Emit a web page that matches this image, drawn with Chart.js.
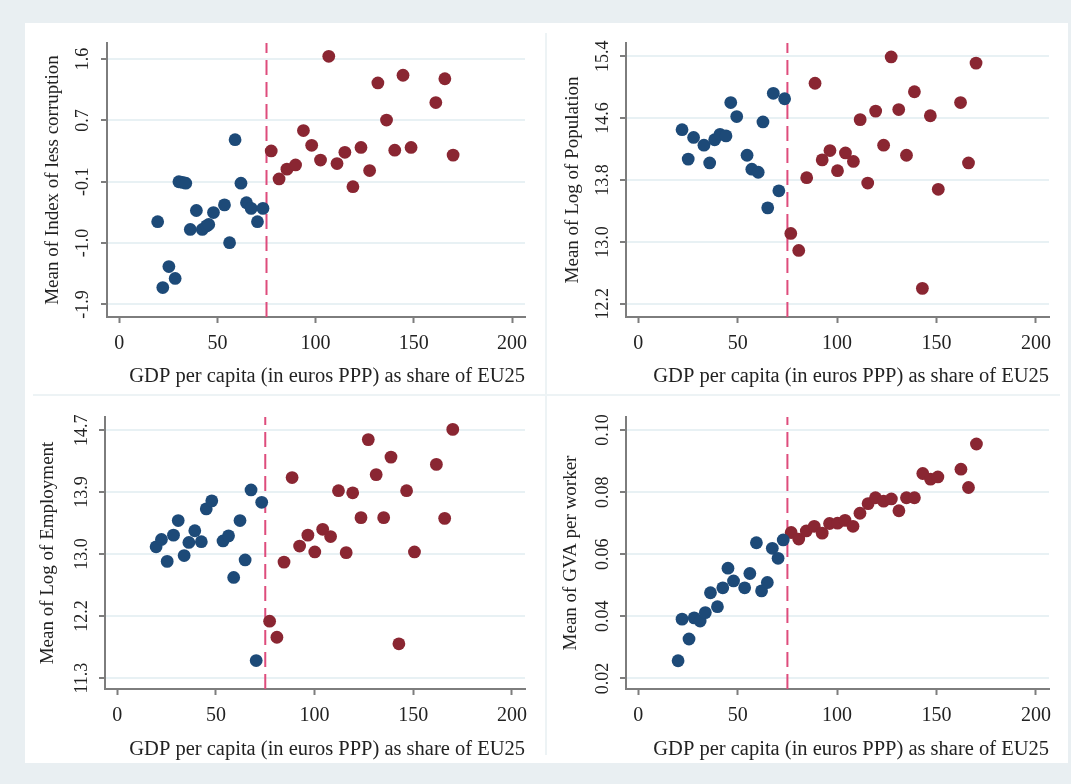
<!DOCTYPE html>
<html>
<head>
<meta charset="utf-8">
<script src="https://cdn.jsdelivr.net/npm/chart.js@4.4.0/dist/chart.umd.min.js"></script>
<style>
	body { margin: 0; background: #e9eff2; }
	#frame { position: absolute; left: 25px; top: 23px; width: 1043px; height: 740px; background: #ffffff; }
	#frame canvas { position: absolute; }
	.sep { position: absolute; background: #edf3f5; }
</style>
</head>
<body>
<div id="frame">
	<canvas id="chart-corruption" width="521" height="372" style="left:0;top:0"></canvas>
	<canvas id="chart-population" width="522" height="372" style="left:521px;top:0"></canvas>
	<canvas id="chart-employment" width="521" height="368" style="left:0;top:372px"></canvas>
	<canvas id="chart-gva" width="522" height="368" style="left:521px;top:372px"></canvas>
	<div class="sep" style="left:520px;top:10px;width:2px;height:722px"></div>
	<div class="sep" style="left:8px;top:371px;width:1027px;height:2px"></div>
</div>
<script>
// regions below / above the 75% threshold, [GDP share, value]
var cutoff = 75;
var xTicks = [0, 50, 100, 150, 200];
var xTitle = "GDP per capita (in euros PPP) as share of EU25";

var corruptionBelow = [[19.6,-0.72],[22.2,-1.66],[25.3,-1.36],[28.5,-1.53],[30.4,-0.15],[32.3,-0.16],[33.9,-0.17],[36.2,-0.83],[39.3,-0.56],[42.3,-0.83],[44.5,-0.78],[45.6,-0.76],[48.0,-0.59],[53.6,-0.48],[56.2,-1.02],[59.0,0.45],[62.0,-0.17],[64.8,-0.45],[67.2,-0.53],[70.4,-0.72],[73.2,-0.53]];
var corruptionAbove = [[77.4,0.29],[81.4,-0.11],[85.4,0.03],[89.8,0.09],[93.8,0.58],[98.0,0.37],[102.5,0.16],[106.7,1.64],[110.9,0.11],[114.9,0.27],[119.0,-0.22],[123.1,0.34],[127.5,0.01],[131.7,1.26],[136.1,0.73],[140.3,0.30],[144.5,1.37],[148.6,0.34],[161.2,0.98],[165.8,1.32],[170.0,0.23]];
var corruptionTicks = [-1.9, -1.025, -0.15, 0.725, 1.6];
var corruptionLabels = ["-1.9", "-1.0", "-0.1", "0.7", "1.6"];

var populationBelow = [[22.0,14.45],[25.1,14.07],[27.8,14.35],[33.0,14.25],[35.9,14.02],[38.4,14.32],[41.1,14.39],[44.1,14.37],[46.5,14.80],[49.5,14.62],[54.7,14.12],[57.1,13.94],[60.3,13.90],[62.7,14.55],[65.1,13.44],[67.9,14.92],[70.7,13.66],[73.6,14.85]];
var populationAbove = [[76.7,13.11],[80.7,12.89],[84.7,13.83],[88.9,15.05],[92.5,14.06],[96.4,14.18],[100.2,13.92],[104.2,14.15],[108.2,14.04],[111.6,14.58],[115.4,13.76],[119.4,14.69],[123.4,14.25],[127.2,15.39],[131.0,14.71],[134.9,14.12],[138.9,14.94],[142.9,12.40],[146.9,14.63],[150.9,13.68],[162.1,14.80],[166.1,14.02],[169.9,15.31]];
var populationTicks = [12.2, 13.0, 13.8, 14.6, 15.4];
var populationLabels = ["12.2", "13.0", "13.8", "14.6", "15.4"];

var employmentBelow = [[19.7,13.10],[22.4,13.20],[25.3,12.90],[28.5,13.26],[30.9,13.46],[33.9,12.98],[36.3,13.16],[39.3,13.32],[42.6,13.17],[45.1,13.62],[47.9,13.73],[53.6,13.18],[56.4,13.25],[59.0,12.68],[62.2,13.46],[64.8,12.92],[67.8,13.88],[70.4,11.54],[73.2,13.71]];
var employmentAbove = [[77.2,12.08],[80.9,11.86],[84.5,12.89],[88.6,14.05],[92.4,13.11],[96.6,13.26],[100.1,13.03],[104.1,13.34],[108.1,13.24],[112.1,13.87],[116.0,13.02],[119.3,13.84],[123.5,13.50],[127.2,14.57],[131.2,14.09],[135.0,13.50],[138.7,14.33],[142.7,11.77],[146.6,13.87],[150.6,13.03],[161.7,14.23],[165.9,13.49],[170.0,14.71]];
var employmentTicks = [11.3, 12.15, 13.0, 13.85, 14.7];
var employmentLabels = ["11.3", "12.2", "13.0", "13.9", "14.7"];

var gvaBelow = [[20.0,0.0257],[22.0,0.0391],[25.5,0.0327],[28.1,0.0395],[31.1,0.0385],[33.7,0.0412],[36.3,0.0476],[39.8,0.0431],[42.5,0.0492],[45.1,0.0555],[47.9,0.0514],[53.5,0.0492],[56.1,0.0538],[59.4,0.0637],[62.0,0.0482],[64.9,0.0509],[67.4,0.0619],[70.3,0.0587],[72.9,0.0646]];
var gvaAbove = [[76.9,0.0670],[80.7,0.0649],[84.5,0.0675],[88.5,0.0690],[92.5,0.0668],[96.2,0.0699],[100.2,0.0700],[104.0,0.0709],[108.0,0.0690],[111.5,0.0732],[115.6,0.0763],[119.3,0.0782],[123.4,0.0771],[127.3,0.0778],[131.1,0.0740],[134.9,0.0782],[138.9,0.0782],[143.1,0.0860],[147.0,0.0842],[150.7,0.0849],[162.3,0.0874],[166.1,0.0815],[170.1,0.0955]];
var gvaTicks = [0.02, 0.04, 0.06, 0.08, 0.10];
var gvaLabels = ["0.02", "0.04", "0.06", "0.08", "0.10"];

var fontFamily = "'Liberation Serif', 'DejaVu Serif', serif";
var axisGrey = "#7d7d7d";

createPanel("chart-corruption", {
	below: corruptionBelow, above: corruptionAbove,
	ticks: corruptionTicks, labels: corruptionLabels,
	title: "Mean of Index of less corruption",
	yMin: -2.08, yMax: 1.83,
	top: 20, right: 21, yWidth: 82, xHeight: 78,
	yTitlePad: 17, yTickPad: 3, xTitlePad: 6
});
createPanel("chart-population", {
	below: populationBelow, above: populationAbove,
	ticks: populationTicks, labels: populationLabels,
	title: "Mean of Log of Population",
	yMin: 12.03, yMax: 15.57,
	top: 20, right: 19, yWidth: 80, xHeight: 78,
	yTitlePad: 16, yTickPad: 1, xTitlePad: 6
});
createPanel("chart-employment", {
	below: employmentBelow, above: employmentAbove,
	ticks: employmentTicks, labels: employmentLabels,
	title: "Mean of Log of Employment",
	yMin: 11.15, yMax: 14.88,
	top: 22, right: 21, yWidth: 80, xHeight: 74,
	yTitlePad: 12, yTickPad: 1, xTitlePad: 1
});
createPanel("chart-gva", {
	below: gvaBelow, above: gvaAbove,
	ticks: gvaTicks, labels: gvaLabels,
	title: "Mean of GVA per worker",
	yMin: 0.0166, yMax: 0.1042,
	top: 22, right: 19, yWidth: 80, xHeight: 74,
	yTitlePad: 13.5, yTickPad: 1, xTitlePad: 1
});

function toPoints(pairs)
{
	return pairs.map(function(p) { return { x: p[0], y: p[1] }; });
}

function createPanel(forid, p)
{
	return new Chart(document.getElementById(forid).getContext("2d"), {
		type: "scatter",
		data: {
			datasets: [{
				data: toPoints(p.below),
				backgroundColor: "#1d4a78",
				pointRadius: 6.4,
				pointBorderWidth: 0,
				order: 1
			}, {
				data: toPoints(p.above),
				backgroundColor: "#8a2632",
				pointRadius: 6.4,
				pointBorderWidth: 0,
				order: 1
			}, {
				// threshold marker at 75% of the EU25 average
				type: "line",
				data: [{ x: cutoff, y: p.yMin }, { x: cutoff, y: p.yMax }],
				borderColor: "#de4c7c",
				borderWidth: 2,
				borderDash: [15, 7],
				pointRadius: 0,
				order: 2
			}]
		},
		options: {
			responsive: false,
			animation: false,
			events: [],
			layout: { padding: { top: p.top, right: p.right, left: 0, bottom: 0 } },
			plugins: { legend: { display: false }, tooltip: { enabled: false } },
			scales: {
				x: {
					type: "linear",
					min: -6.2,
					max: 206.6,
					afterBuildTicks: function(scale) { scale.ticks = xTicks.map(function(v) { return { value: v }; }); },
					afterFit: function(scale) { scale.height = p.xHeight; },
					border: { color: axisGrey, width: 2 },
					grid: { drawOnChartArea: false, tickColor: axisGrey, tickLength: 6, tickWidth: 2 },
					ticks: {
						color: "#222",
						padding: 9,
						maxRotation: 0,
						font: { family: fontFamily, size: 20 },
						callback: function(v) { return String(v); }
					},
					title: {
						display: true,
						text: xTitle,
						align: "end",
						color: "#222",
						font: { family: fontFamily, size: 20.5 },
						padding: { top: 0, bottom: p.xTitlePad }
					}
				},
				y: {
					type: "linear",
					min: p.yMin,
					max: p.yMax,
					afterBuildTicks: function(scale) { scale.ticks = p.ticks.map(function(v) { return { value: v }; }); },
					afterFit: function(scale) { scale.width = p.yWidth; },
					border: { color: axisGrey, width: 2 },
					grid: { color: "#e8f1f4", lineWidth: 2, tickColor: axisGrey, tickLength: 6, tickWidth: 2 },
					ticks: {
						color: "#222",
						padding: p.yTickPad,
						minRotation: 90,
						maxRotation: 90,
						crossAlign: "center",
						font: { family: fontFamily, size: 18 },
						callback: function(v, i) { return p.labels[i]; }
					},
					title: {
						display: true,
						text: p.title,
						color: "#222",
						font: { family: fontFamily, size: 19 },
						padding: { top: p.yTitlePad, bottom: 0 }
					}
				}
			}
		}
	});
}
</script>
</body>
</html>
